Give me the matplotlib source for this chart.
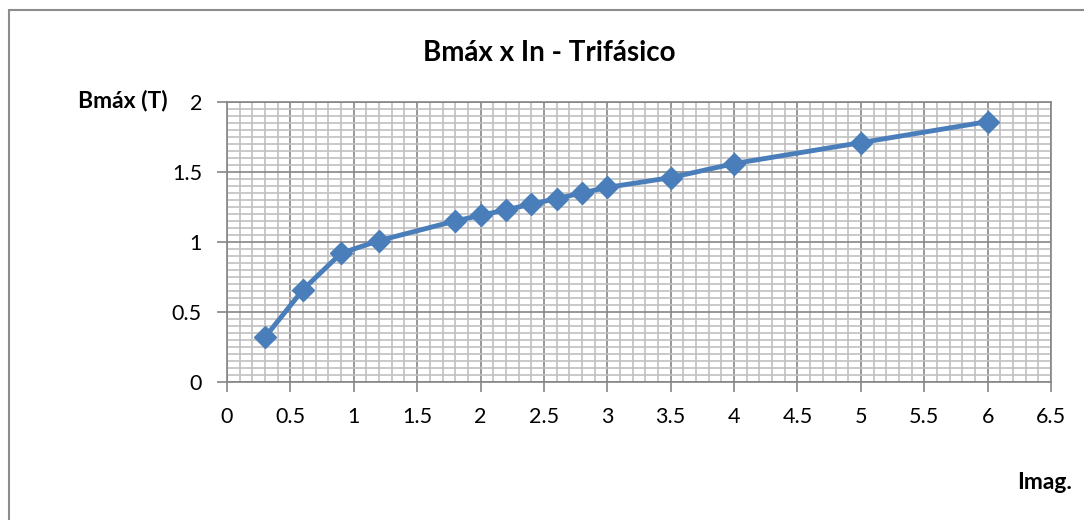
import matplotlib.pyplot as plt
from matplotlib.ticker import MultipleLocator
from matplotlib.patches import Rectangle

plt.rcParams['font.family'] = ['Lato', 'DejaVu Sans']

# Imag. (A) vs Bmax (T)
imag = [0.3, 0.6, 0.9, 1.2, 1.8, 2.0, 2.2, 2.4, 2.6, 2.8, 3.0, 3.5, 4.0, 5.0, 6.0]
bmax = [0.32, 0.66, 0.92, 1.01, 1.15, 1.19, 1.23, 1.27, 1.31, 1.35, 1.39, 1.46, 1.56, 1.71, 1.86]

fig = plt.figure(figsize=(10.84, 5.2), dpi=100)
ax = fig.add_axes([0.2094, 0.2654, 0.7602, 0.5384])

# outer chart border
fig.patches.append(Rectangle((9 / 1084, -0.1), 1.2, 1 - 10 / 520 + 0.1,
                             transform=fig.transFigure, fill=False,
                             edgecolor='#8c8c8c', linewidth=1.5))

ax.plot(imag, bmax, color='#4A7EBB', linewidth=3.5, marker='D',
        markersize=11, markerfacecolor='#4A7EBB', markeredgecolor='#4A7EBB', zorder=5)

ax.set_xlim(0, 6.5)
ax.set_ylim(0, 2)
ax.xaxis.set_major_locator(MultipleLocator(0.5))
ax.xaxis.set_minor_locator(MultipleLocator(0.1))
ax.yaxis.set_major_locator(MultipleLocator(0.5))
ax.yaxis.set_minor_locator(MultipleLocator(0.05))
ax.set_xticklabels([f"{v:g}" for v in ax.get_xticks()])
ax.set_yticklabels([f"{v:g}" for v in ax.get_yticks()])

ax.grid(which='minor', color='#c0c0c0', linewidth=1.2)
ax.grid(which='major', color='#868686', linewidth=1.2)
ax.set_axisbelow(True)

for s in ax.spines.values():
    s.set_color('#868686')
    s.set_linewidth(1.2)

ax.tick_params(which='major', direction='out', length=7, width=1.2, color='#868686',
               labelsize=15.5, pad=11)
ax.tick_params(which='minor', length=0)

fig.text(0.507, 0.898, 'Bmáx x In - Trifásico', ha='center', va='center',
         fontsize=20, fontweight='bold')
fig.text(0.113, 0.807, 'Bmáx (T)', ha='center', va='center', fontsize=16.5, fontweight='bold')
fig.text(0.964, 0.073, 'Imag.', ha='center', va='center', fontsize=16.5, fontweight='bold')

fig.savefig('out.png', dpi=100)
